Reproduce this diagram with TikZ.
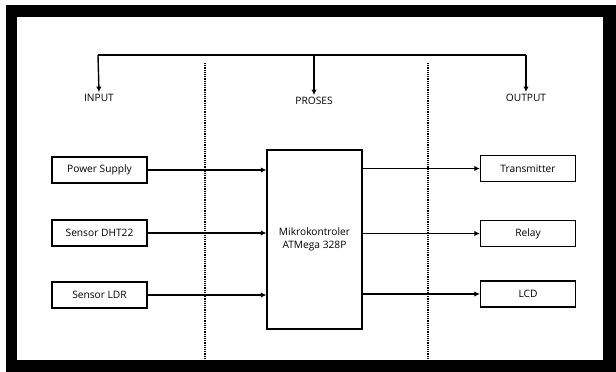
\documentclass[tikz,border=0pt]{standalone}
\usepackage{fontspec}
\setmainfont{Open Sans}
\usetikzlibrary{arrows.meta, positioning}

\begin{document}
\begin{tikzpicture}[x=1pt, y=-1pt,
  blok/.style={draw, line width=1.3pt, minimum width=95pt, minimum height=26pt,
    inner sep=1pt, font=\fontsize{10.2}{13}\selectfont, align=center},
  judul/.style={inner sep=2pt, font=\fontsize{10.2}{13}\selectfont},
  panah/.style={line width=1.4pt, -{Latex[length=5.5pt,width=5.5pt]}},
  batas/.style={line width=1.6pt, dash pattern=on 1.1pt off 1.1pt}]
  \useasboundingbox (0,0) rectangle (616,372);

  % Outer frame
  \fill[black] (6,5) rectangle (616,372);
  \fill[white] (17,17) rectangle (603,360);

  % Section headers
  \node[judul] (input) at (99,98) {INPUT};
  \node[judul] (proses) at (314,101) {PROSES};
  \node[judul] (output) at (526,98) {OUTPUT};

  % Top bus
  \coordinate (busL) at (98,55);
  \coordinate (busM) at (314,55);
  \coordinate (busR) at (526,55);
  \draw[line width=1.4pt] (busL) -- (busR);
  \draw[panah] (busL) -- (input.north);
  \draw[panah] (busM) -- (proses.north);
  \draw[panah] (busR) -- (output.north);

  % Dividers
  \draw[batas] (205,63) -- (205,358);
  \draw[batas] (428,63) -- (428,358);

  % Inputs
  \node[blok] (ps) at (99.5,170) {Power Supply};
  \node[blok] (dht) at (99.5,233) {Sensor DHT22};
  \node[blok] (ldr) at (99.5,295) {Sensor LDR};

  % Microcontroller
  \node[blok, minimum height=179pt] (mcu) at (314.5,239.5) {Mikrokontroler\\ATMega 328P};

  % Outputs
  \node[blok] (tx) at (528,168.5) {Transmitter};
  \node[blok] (relay) at (528,233.5) {Relay};
  \node[blok] (lcd) at (528,294) {LCD};

  % Connections
  \draw[panah] (ps.east) -- (mcu.west |- ps.east);
  \draw[panah] (dht.east) -- (mcu.west |- dht.east);
  \draw[panah] (ldr.east) -- (mcu.west |- ldr.east);
  \draw[panah] (mcu.east |- tx.west) -- (tx.west);
  \draw[panah] (mcu.east |- relay.west) -- (relay.west);
  \draw[panah] (mcu.east |- lcd.west) -- (lcd.west);
\end{tikzpicture}
\end{document}
